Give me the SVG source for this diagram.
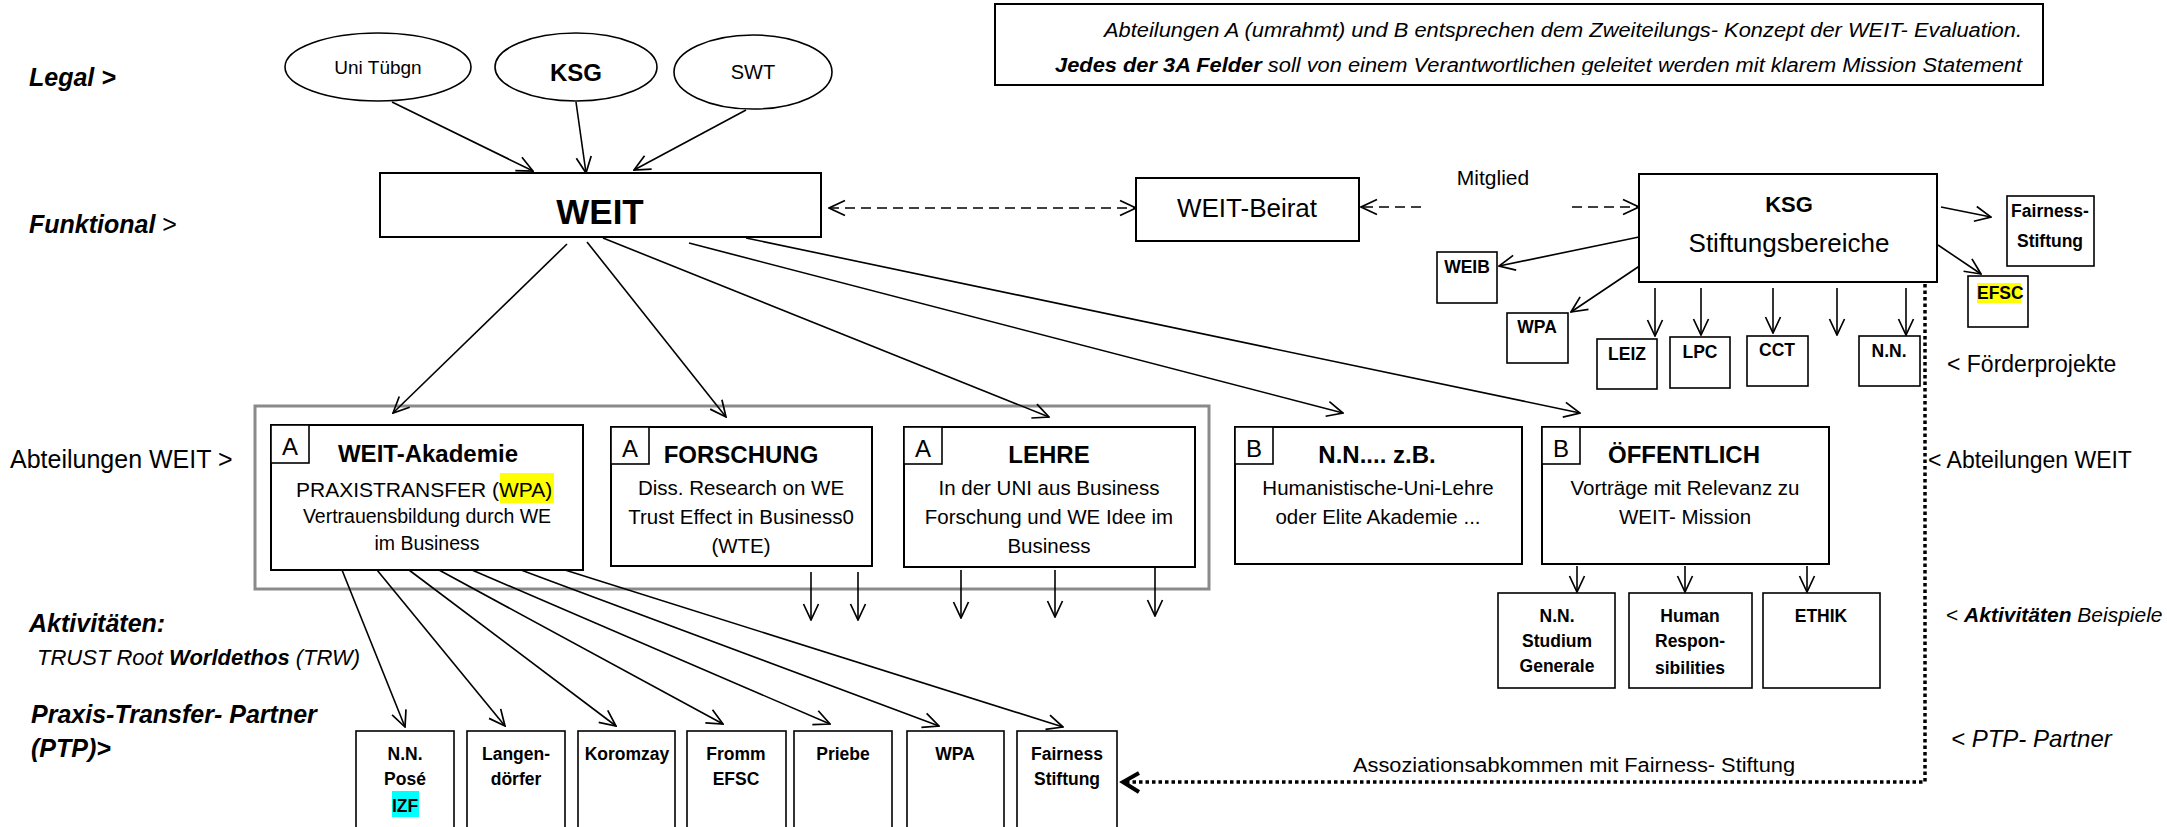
<svg xmlns="http://www.w3.org/2000/svg" width="2167" height="827" viewBox="0 0 2167 827">
<style>
text{font-family:"Liberation Sans",Arial,sans-serif;fill:#000}
.box{fill:#fff;stroke:#000;stroke-width:2}
.sbox{fill:#fff;stroke:#000;stroke-width:1.6}
.ell{fill:#fff;stroke:#000;stroke-width:1.6}
.c{text-anchor:middle}
.b{font-weight:bold}
.i{font-style:italic}
.ln{fill:none;stroke:#000;stroke-width:1.6}
.arr{marker-end:url(#ah)}
.dash{stroke-dasharray:10 6}
.title{font-size:24px;font-weight:bold}
.body{font-size:20.5px}
.lab{font-size:25px}
.small{font-size:17.5px;font-weight:bold}
</style>
<defs>
<marker id="ah" viewBox="0 0 18 18" refX="17" refY="9" markerWidth="18" markerHeight="18" markerUnits="userSpaceOnUse" orient="auto-start-reverse">
<path d="M1,1.5 L17,9 L1,16.5" fill="none" stroke="#000" stroke-width="1.7"/>
</marker>
<clipPath id="noteclip"><rect x="995" y="0" width="1050" height="75"/></clipPath>
</defs>
<rect width="2167" height="827" fill="#fff"/>

<g id="note">
<rect x="995" y="4" width="1048" height="81" fill="#fff" stroke="#000" stroke-width="2"/>
<g clip-path="url(#noteclip)">
<text x="1104" y="37" class="i" font-size="20.5" textLength="918" lengthAdjust="spacingAndGlyphs">Abteilungen A (umrahmt) und B entsprechen dem Zweiteilungs- Konzept der WEIT- Evaluation.</text>
<text x="1055" y="72" class="i" font-size="20.5" textLength="967" lengthAdjust="spacingAndGlyphs"><tspan font-weight="bold">Jedes der 3A Felder</tspan> soll von einem Verantwortlichen geleitet werden mit klarem Mission Statement</text>
</g>
</g>

<g id="labels">
<text x="29" y="86" class="lab b i">Legal &gt;</text>
<text x="29" y="233" class="lab"><tspan class="b i">Funktional</tspan> &gt;</text>
<text x="10" y="468" class="lab">Abteilungen WEIT &gt;</text>
<text x="29" y="632" class="lab b i">Aktivitäten:</text>
<text x="37" y="665" font-size="22" class="i">TRUST Root <tspan font-weight="bold">Worldethos</tspan> (TRW)</text>
<text x="31" y="723" class="lab b i">Praxis-Transfer- Partner</text>
<text x="31" y="757" class="lab b i">(PTP)&gt;</text>
<text x="1947" y="372" font-size="23">&lt; Förderprojekte</text>
<text x="1928" y="468" font-size="23">&lt; Abteilungen WEIT</text>
<text x="1946" y="622" font-size="21">&lt; <tspan class="b i">Aktivitäten</tspan><tspan class="i"> Beispiele</tspan></text>
<text x="1951" y="747" font-size="24" class="i">&lt; PTP- Partner</text>
<text x="1493" y="185" font-size="21" class="c">Mitglied</text>
<text x="1574" y="772" font-size="20" class="c" textLength="442" lengthAdjust="spacingAndGlyphs">Assoziationsabkommen mit Fairness- Stiftung</text>
</g>

<g id="frame-a">
<rect x="255" y="406" width="954" height="183" fill="none" stroke="#8a8a8a" stroke-width="3"/>
</g>

<g id="connectors">
<line class="ln arr" x1="392" y1="102" x2="533" y2="171"/>
<line class="ln arr" x1="576" y1="102" x2="586" y2="173"/>
<line class="ln arr" x1="746" y1="110" x2="634" y2="170"/>
<line class="ln dash" x1="829" y1="208" x2="1136" y2="208" marker-start="url(#ah)" marker-end="url(#ah)"/>
<line class="ln dash" x1="1421" y1="207" x2="1361" y2="207" marker-end="url(#ah)"/>
<line class="ln dash" x1="1572" y1="207" x2="1639" y2="207" marker-end="url(#ah)"/>
<line class="ln arr" x1="1941" y1="207" x2="1991" y2="217"/>
<line class="ln arr" x1="1938" y1="245" x2="1981" y2="274"/>
<line class="ln arr" x1="1639" y1="237" x2="1499" y2="266"/>
<line class="ln arr" x1="1641" y1="265" x2="1571" y2="312"/>
<line class="ln arr" x1="1655" y1="288" x2="1655" y2="336"/>
<line class="ln arr" x1="1701" y1="288" x2="1701" y2="335"/>
<line class="ln arr" x1="1773" y1="288" x2="1773" y2="333"/>
<line class="ln arr" x1="1837" y1="288" x2="1837" y2="335"/>
<line class="ln arr" x1="1906" y1="288" x2="1906" y2="335"/>
<line class="ln arr" x1="567" y1="244" x2="393" y2="413"/>
<line class="ln arr" x1="587" y1="242" x2="726" y2="417"/>
<line class="ln arr" x1="603" y1="238" x2="1049" y2="417"/>
<line class="ln arr" x1="689" y1="243" x2="1343" y2="413"/>
<line class="ln arr" x1="746" y1="238" x2="1580" y2="413"/>
<line class="ln arr" x1="811" y1="572" x2="811" y2="620"/>
<line class="ln arr" x1="858" y1="572" x2="858" y2="620"/>
<line class="ln arr" x1="961" y1="570" x2="961" y2="618"/>
<line class="ln arr" x1="1055" y1="570" x2="1055" y2="617"/>
<line class="ln arr" x1="1155" y1="568" x2="1155" y2="616"/>
<line class="ln arr" x1="1577" y1="566" x2="1577" y2="592"/>
<line class="ln arr" x1="1685" y1="566" x2="1685" y2="592"/>
<line class="ln arr" x1="1807" y1="566" x2="1807" y2="592"/>
<line class="ln arr" x1="342" y1="570" x2="405" y2="727"/>
<line class="ln arr" x1="377" y1="570" x2="505" y2="726"/>
<line class="ln arr" x1="409" y1="570" x2="616" y2="726"/>
<line class="ln arr" x1="439" y1="570" x2="723" y2="724"/>
<line class="ln arr" x1="472" y1="570" x2="830" y2="724"/>
<line class="ln arr" x1="521" y1="570" x2="939" y2="726"/>
<line class="ln arr" x1="565" y1="570" x2="1063" y2="727"/>
<polyline points="1925,284 1925,782 1125,782" fill="none" stroke="#000" stroke-width="3.5" stroke-dasharray="3.5 3"/>
<polyline points="1139,773 1123,782 1139,792" fill="none" stroke="#000" stroke-width="4"/>
</g>

<g id="legal-uni"><ellipse class="ell" cx="378" cy="67" rx="93" ry="34"/><text x="378" y="74" font-size="19" class="c">Uni Tübgn</text></g>
<g id="legal-ksg"><ellipse class="ell" cx="576" cy="67" rx="81" ry="34"/><text x="576" y="81" font-size="24" class="c b">KSG</text></g>
<g id="legal-swt"><ellipse class="ell" cx="753" cy="72" rx="79" ry="37"/><text x="753" y="79" font-size="20" class="c">SWT</text></g>

<g id="weit"><rect class="box" x="380" y="173" width="441" height="64"/><text x="600" y="224" font-size="35" class="c b">WEIT</text></g>
<g id="weit-beirat"><rect class="box" x="1136" y="178" width="223" height="63"/><text x="1247" y="217" font-size="26" class="c">WEIT-Beirat</text></g>
<g id="ksg"><rect class="box" x="1639" y="174" width="298" height="108"/><text x="1789" y="212" font-size="22" class="c b">KSG</text><text x="1789" y="252" font-size="26" class="c">Stiftungsbereiche</text></g>
<g id="fairness-stiftung-top"><rect class="sbox" x="2007" y="196" width="87" height="70"/><text x="2050" y="217" class="small c">Fairness-</text><text x="2050" y="247" class="small c">Stiftung</text></g>
<g id="efsc-top"><rect class="sbox" x="1968" y="276" width="60" height="51"/><rect x="1977" y="283" width="44" height="20" fill="#ffff00"/><text x="1977" y="299" class="small">EFSC</text></g>
<g id="weib"><rect class="sbox" x="1437" y="252" width="60" height="51"/><text x="1467" y="273" class="small c">WEIB</text></g>
<g id="wpa-top"><rect class="sbox" x="1507" y="313" width="61" height="50"/><text x="1537" y="333" class="small c">WPA</text></g>
<g id="leiz"><rect class="sbox" x="1597" y="339" width="60" height="50"/><text x="1627" y="360" class="small c">LEIZ</text></g>
<g id="lpc"><rect class="sbox" x="1670" y="337" width="60" height="51"/><text x="1700" y="358" class="small c">LPC</text></g>
<g id="cct"><rect class="sbox" x="1747" y="336" width="61" height="50"/><text x="1777" y="356" class="small c">CCT</text></g>
<g id="nn-foerder"><rect class="sbox" x="1859" y="336" width="61" height="50"/><text x="1889" y="357" class="small c">N.N.</text></g>

<g id="akademie">
<rect class="box" x="271" y="425" width="312" height="145"/>
<rect class="sbox" x="271" y="425" width="38" height="38"/>
<text x="290" y="455" font-size="24" class="c">A</text>
<text x="428" y="462" class="title c">WEIT-Akademie</text>
<rect x="500" y="473" width="54" height="30" fill="#ffff00"/>
<text x="296" y="497" font-size="21">PRAXISTRANSFER (WPA)</text>
<text x="427" y="523" font-size="19.5" class="c">Vertrauensbildung durch WE</text>
<text x="427" y="550" font-size="19.5" class="c">im Business</text>
</g>
<g id="forschung">
<rect class="box" x="611" y="427" width="261" height="139"/>
<rect class="sbox" x="611" y="427" width="38" height="37"/>
<text x="630" y="457" font-size="24" class="c">A</text>
<text x="741" y="463" class="title c">FORSCHUNG</text>
<text x="741" y="495" class="body c">Diss. Research on WE</text>
<text x="741" y="524" class="body c">Trust Effect in Business0</text>
<text x="741" y="553" class="body c">(WTE)</text>
</g>
<g id="lehre">
<rect class="box" x="904" y="427" width="291" height="140"/>
<rect class="sbox" x="904" y="427" width="38" height="37"/>
<text x="923" y="457" font-size="24" class="c">A</text>
<text x="1049" y="463" class="title c">LEHRE</text>
<text x="1049" y="495" class="body c">In der UNI aus Business</text>
<text x="1049" y="524" class="body c">Forschung und WE Idee im</text>
<text x="1049" y="553" class="body c">Business</text>
</g>
<g id="nn-zb">
<rect class="box" x="1235" y="427" width="287" height="137"/>
<rect class="sbox" x="1235" y="427" width="38" height="37"/>
<text x="1254" y="457" font-size="24" class="c">B</text>
<text x="1377" y="463" class="title c">N.N.... z.B.</text>
<text x="1378" y="495" class="body c">Humanistische-Uni-Lehre</text>
<text x="1378" y="524" class="body c">oder Elite Akademie ...</text>
</g>
<g id="oeffentlich">
<rect class="box" x="1542" y="427" width="287" height="137"/>
<rect class="sbox" x="1542" y="427" width="38" height="37"/>
<text x="1561" y="457" font-size="24" class="c">B</text>
<text x="1684" y="463" class="title c">ÖFFENTLICH</text>
<text x="1685" y="495" class="body c">Vorträge mit Relevanz zu</text>
<text x="1685" y="524" class="body c">WEIT- Mission</text>
</g>

<g id="akt-nn"><rect class="sbox" x="1498" y="593" width="117" height="95"/><text x="1557" y="622" class="small c">N.N.</text><text x="1557" y="647" class="small c">Studium</text><text x="1557" y="672" class="small c">Generale</text></g>
<g id="akt-human"><rect class="sbox" x="1629" y="593" width="123" height="95"/><text x="1690" y="622" class="small c">Human</text><text x="1690" y="647" class="small c">Respon-</text><text x="1690" y="674" class="small c">sibilities</text></g>
<g id="akt-ethik"><rect class="sbox" x="1763" y="593" width="117" height="95"/><text x="1821" y="622" class="small c">ETHIK</text></g>

<g id="ptp-nn"><rect class="sbox" x="356" y="731" width="98" height="100"/><text x="405" y="760" class="small c">N.N.</text><text x="405" y="785" class="small c">Posé</text><rect x="392" y="791" width="27" height="26" fill="#00ffff"/><text x="405" y="812" class="small c">IZF</text></g>
<g id="ptp-langen"><rect class="sbox" x="467" y="731" width="98" height="100"/><text x="516" y="760" class="small c">Langen-</text><text x="516" y="785" class="small c">dörfer</text></g>
<g id="ptp-koromzay"><rect class="sbox" x="578" y="731" width="97" height="100"/><text x="627" y="760" class="small c">Koromzay</text></g>
<g id="ptp-fromm"><rect class="sbox" x="687" y="731" width="99" height="100"/><text x="736" y="760" class="small c">Fromm</text><text x="736" y="785" class="small c">EFSC</text></g>
<g id="ptp-priebe"><rect class="sbox" x="794" y="731" width="98" height="100"/><text x="843" y="760" class="small c">Priebe</text></g>
<g id="ptp-wpa"><rect class="sbox" x="907" y="731" width="97" height="100"/><text x="955" y="760" class="small c">WPA</text></g>
<g id="ptp-fairness"><rect class="sbox" x="1017" y="731" width="100" height="100"/><text x="1067" y="760" class="small c">Fairness</text><text x="1067" y="785" class="small c">Stiftung</text></g>
</svg>
